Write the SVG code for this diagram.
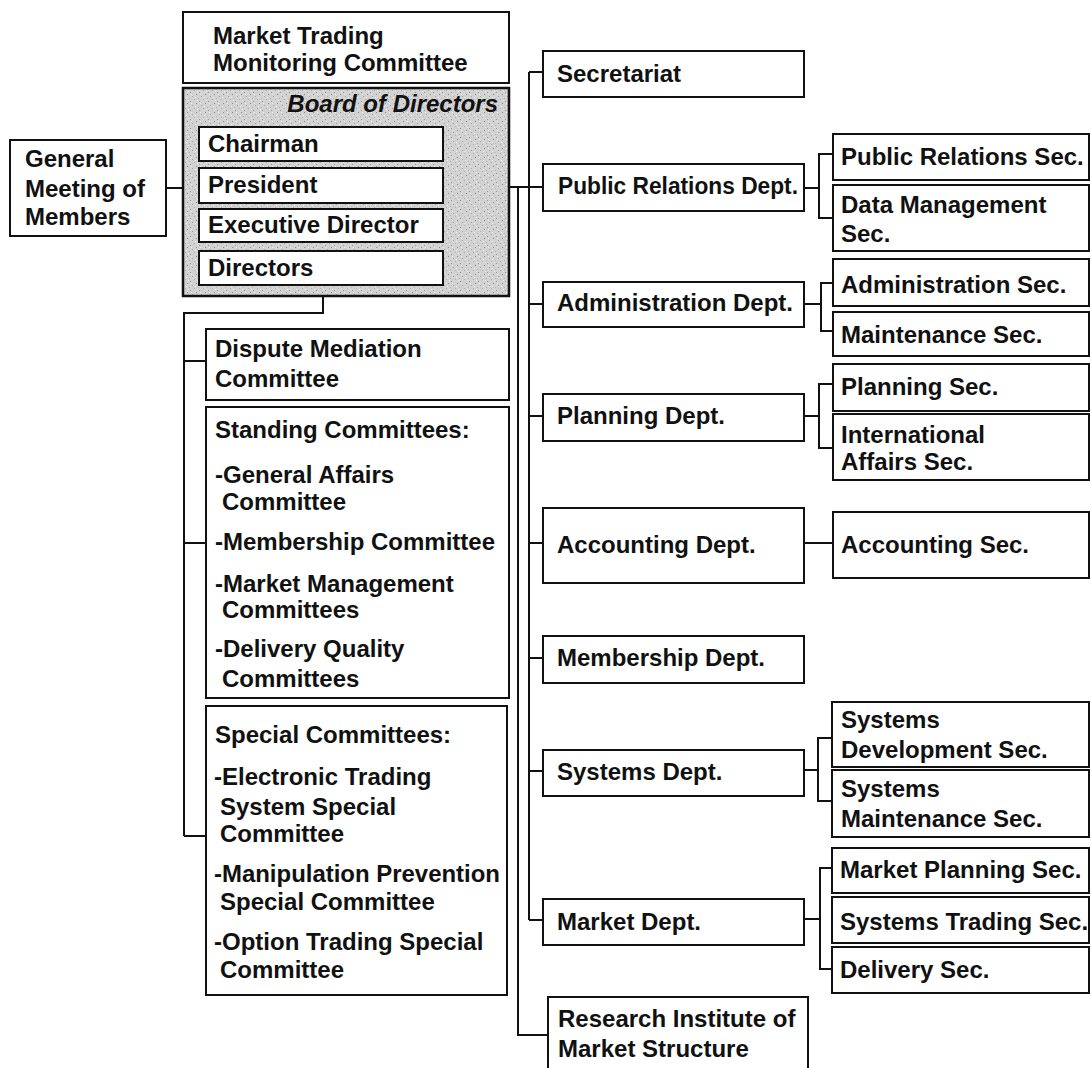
<svg xmlns="http://www.w3.org/2000/svg" width="1091" height="1068" viewBox="0 0 1091 1068">
<defs>
<pattern id="stipple" width="9" height="9" patternUnits="userSpaceOnUse">
<rect width="9" height="9" fill="#d2d2d2"/>
<rect x="1" y="2" width="1" height="1" fill="#9a9a9a"/>
<rect x="5" y="0" width="1" height="1" fill="#b0b0b0"/>
<rect x="7" y="4" width="1" height="1" fill="#8e8e8e"/>
<rect x="3" y="6" width="1" height="1" fill="#a5a5a5"/>
<rect x="0" y="8" width="1" height="1" fill="#b5b5b5"/>
<rect x="6" y="7" width="1" height="1" fill="#f0f0f0"/>
<rect x="2" y="4" width="1" height="1" fill="#eeeeee"/>
<rect x="8" y="1" width="1" height="1" fill="#ececec"/>
</pattern>
</defs>
<style>
rect.box{fill:#ffffff;stroke:#111111;stroke-width:2}
rect.board{fill:url(#stipple);stroke:#111111;stroke-width:2.5}
text{font-family:"Liberation Sans",Arial,Helvetica,sans-serif;font-size:24px;font-weight:bold;fill:#111111}
text.title{font-style:italic}
#connectors path{fill:none;stroke:#111111;stroke-width:2}
</style>
<rect width="1091" height="1068" fill="#ffffff"/>

<g id="connectors">
<path d="M166 188H183"/>
<path d="M509 187H543"/>
<path d="M518 187V1035H548"/>
<path d="M529 72V920"/>
<path d="M529 72H543M529 304H543M529 416H543M529 543H543M529 658H543M529 771H543M529 920H543"/>
<path d="M323 296V313H184V836"/>
<path d="M184 361H206M184 543H206M184 836H206"/>
<path d="M804 188H819M833 154H819V218H833"/>
<path d="M804 304H821M833 283H821V331H833"/>
<path d="M804 416H819M833 384H819V448H833"/>
<path d="M804 543H833"/>
<path d="M804 770H818M832 738H818V801H832"/>
<path d="M804 919H820M832 868H820V969H832"/>
</g>

<g id="general-meeting">
<rect class="box" x="10" y="140" width="156" height="96"/>
<text x="25" y="167">General</text>
<text x="25" y="197">Meeting of</text>
<text x="25" y="225">Members</text>
</g>

<g id="market-trading-monitoring">
<rect class="box" x="183" y="12" width="326" height="71"/>
<text x="213" y="44">Market Trading</text>
<text x="213" y="71">Monitoring Committee</text>
</g>

<g id="board-of-directors">
<rect class="board" x="183" y="88" width="326" height="208"/>
<text class="title" x="498" y="112" text-anchor="end">Board of Directors</text>
<g id="chairman"><rect class="box" x="199" y="127" width="244" height="34"/><text x="208" y="152">Chairman</text></g>
<g id="president"><rect class="box" x="199" y="168" width="244" height="35"/><text x="208" y="193">President</text></g>
<g id="executive-director"><rect class="box" x="199" y="209" width="244" height="33"/><text x="208" y="233">Executive Director</text></g>
<g id="directors"><rect class="box" x="199" y="251" width="244" height="34"/><text x="208" y="276">Directors</text></g>
</g>

<g id="dispute-mediation">
<rect class="box" x="206" y="329" width="303" height="71"/>
<text x="215" y="357">Dispute Mediation</text>
<text x="215" y="387">Committee</text>
</g>

<g id="standing-committees">
<rect class="box" x="206" y="407" width="303" height="291"/>
<text x="215" y="438">Standing Committees:</text>
<text x="215" y="483">-General Affairs</text>
<text x="222" y="510">Committee</text>
<text x="215" y="550">-Membership Committee</text>
<text x="215" y="592">-Market Management</text>
<text x="222" y="618">Committees</text>
<text x="215" y="657">-Delivery Quality</text>
<text x="222" y="687">Committees</text>
</g>

<g id="special-committees">
<rect class="box" x="206" y="706" width="301" height="289"/>
<text x="215" y="743">Special Committees:</text>
<text x="214" y="785">-Electronic Trading</text>
<text x="220" y="815">System Special</text>
<text x="220" y="842">Committee</text>
<text x="214" y="882" textLength="286" lengthAdjust="spacingAndGlyphs">-Manipulation Prevention</text>
<text x="220" y="910">Special Committee</text>
<text x="214" y="950">-Option Trading Special</text>
<text x="220" y="978">Committee</text>
</g>

<g id="secretariat"><rect class="box" x="543" y="51" width="261" height="46"/><text x="557" y="82">Secretariat</text></g>
<g id="public-relations-dept"><rect class="box" x="543" y="164" width="261" height="47"/><text x="558" y="194" textLength="240" lengthAdjust="spacingAndGlyphs">Public Relations Dept.</text></g>
<g id="administration-dept"><rect class="box" x="543" y="282" width="261" height="45"/><text x="557" y="311">Administration Dept.</text></g>
<g id="planning-dept"><rect class="box" x="543" y="394" width="261" height="47"/><text x="557" y="424">Planning Dept.</text></g>
<g id="accounting-dept"><rect class="box" x="543" y="508" width="261" height="75"/><text x="557" y="553">Accounting Dept.</text></g>
<g id="membership-dept"><rect class="box" x="543" y="636" width="261" height="47"/><text x="557" y="666">Membership Dept.</text></g>
<g id="systems-dept"><rect class="box" x="543" y="750" width="261" height="46"/><text x="557" y="780">Systems Dept.</text></g>
<g id="market-dept"><rect class="box" x="543" y="899" width="261" height="46"/><text x="557" y="930">Market Dept.</text></g>
<g id="research-institute"><rect class="box" x="548" y="997" width="260" height="80"/><text x="558" y="1027">Research Institute of</text><text x="558" y="1057">Market Structure</text></g>

<g id="public-relations-sec"><rect class="box" x="833" y="134" width="256" height="46"/><text x="841" y="165">Public Relations Sec.</text></g>
<g id="data-management-sec"><rect class="box" x="833" y="185" width="256" height="66"/><text x="841" y="213">Data Management</text><text x="841" y="242">Sec.</text></g>
<g id="administration-sec"><rect class="box" x="833" y="259" width="256" height="47"/><text x="841" y="293">Administration Sec.</text></g>
<g id="maintenance-sec"><rect class="box" x="833" y="312" width="256" height="44"/><text x="841" y="343">Maintenance Sec.</text></g>
<g id="planning-sec"><rect class="box" x="833" y="364" width="256" height="47"/><text x="841" y="395">Planning Sec.</text></g>
<g id="international-affairs-sec"><rect class="box" x="833" y="414" width="256" height="66"/><text x="841" y="443">International</text><text x="841" y="470">Affairs Sec.</text></g>
<g id="accounting-sec"><rect class="box" x="833" y="512" width="256" height="66"/><text x="841" y="553">Accounting Sec.</text></g>
<g id="systems-development-sec"><rect class="box" x="832" y="702" width="257" height="65"/><text x="841" y="728">Systems</text><text x="841" y="758">Development Sec.</text></g>
<g id="systems-maintenance-sec"><rect class="box" x="832" y="770" width="257" height="67"/><text x="841" y="797">Systems</text><text x="841" y="827">Maintenance Sec.</text></g>
<g id="market-planning-sec"><rect class="box" x="832" y="848" width="257" height="45"/><text x="840" y="878">Market Planning Sec.</text></g>
<g id="systems-trading-sec"><rect class="box" x="832" y="897" width="257" height="46"/><text x="840" y="930">Systems Trading Sec.</text></g>
<g id="delivery-sec"><rect class="box" x="832" y="947" width="257" height="46"/><text x="840" y="978">Delivery Sec.</text></g>
</svg>
